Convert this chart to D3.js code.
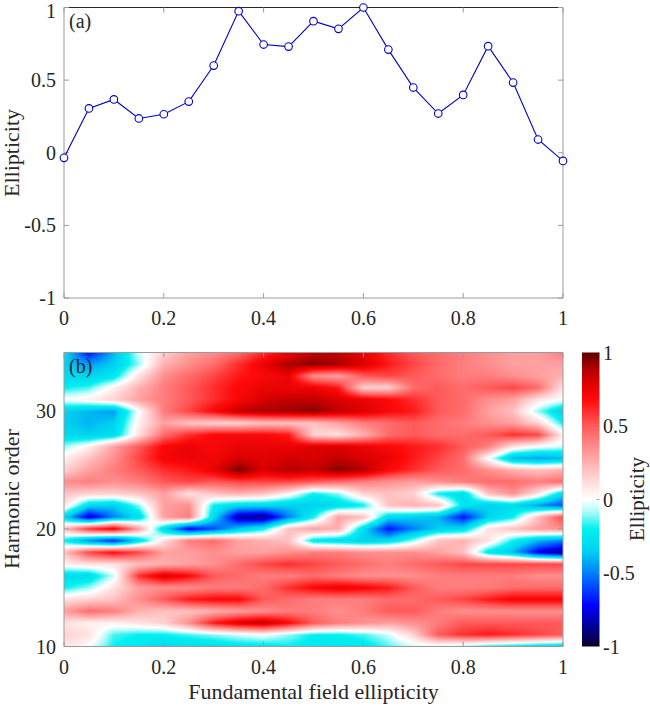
<!DOCTYPE html>
<html>
<head>
<meta charset="utf-8">
<script src="https://cdn.jsdelivr.net/npm/d3@7"></script>
<style>
  body { margin: 0; background: #fff; }
  svg text { font-family: "Liberation Serif", "Times New Roman", Times, serif; fill: #262626; }
</style>
</head>
<body>
<svg id="chart" width="650" height="707"></svg>
<script>
// panel (a): ellipticity of the harmonic vs fundamental ellipticity
const fundamentalEllipticity = [0, 0.05, 0.1, 0.15, 0.2, 0.25, 0.3, 0.35, 0.4, 0.45, 0.5,
  0.55, 0.6, 0.65, 0.7, 0.75, 0.8, 0.85, 0.9, 0.95, 1];
const harmonicEllipticity = [-0.035, 0.305, 0.367, 0.236, 0.265, 0.352, 0.60, 0.975, 0.745, 0.731, 0.906,
  0.853, 1.0, 0.71, 0.449, 0.27, 0.398, 0.734, 0.483, 0.091, -0.056];

// panel (b): rows are harmonic orders (top to bottom), columns follow fundamentalEllipticity
const harmonicOrders = [35, 34, 33, 32, 31, 30, 29, 28, 27, 26, 25, 24, 23,
  22, 21, 20, 19, 18, 17, 16, 15, 14, 13, 12, 11, 10];
const ellipticityMap = [
  [-0.3, -0.7, -0.4, -0.05, 0.15, 0.3, 0.35, 0.45, 0.6, 0.75, 0.85, 0.85, 0.75, 0.6, 0.5, 0.45, 0.4, 0.35, 0.3, 0.3, 0.4],
  [-0.35, -0.45, -0.35, -0.1, 0.25, 0.35, 0.45, 0.6, 0.75, 0.9, 0.95, 0.9, 0.8, 0.65, 0.55, 0.45, 0.4, 0.35, 0.3, 0.3, 0.3],
  [-0.3, -0.35, -0.25, 0.1, 0.35, 0.45, 0.55, 0.65, 0.7, 0.75, 0.35, 0.3, 0.5, 0.55, 0.5, 0.45, 0.4, 0.4, 0.35, 0.3, 0.25],
  [-0.2, -0.15, 0.05, 0.25, 0.4, 0.5, 0.6, 0.7, 0.75, 0.75, 0.75, 0.65, 0.15, 0.15, 0.45, 0.5, 0.45, 0.5, 0.55, 0.45, 0.1],
  [0.0, 0.05, 0.15, 0.3, 0.4, 0.5, 0.6, 0.7, 0.8, 0.85, 0.85, 0.8, 0.75, 0.7, 0.6, 0.5, 0.45, 0.35, 0.3, 0.1, 0.0],
  [-0.35, -0.4, -0.45, 0.0, 0.4, 0.55, 0.7, 0.85, 0.9, 0.92, 0.95, 0.85, 0.8, 0.7, 0.65, 0.5, 0.45, 0.3, 0.2, -0.1, -0.35],
  [-0.35, -0.4, -0.35, 0.05, 0.3, 0.2, 0.15, 0.15, 0.2, 0.2, 0.2, 0.3, 0.4, 0.45, 0.5, 0.45, 0.4, 0.35, 0.3, 0.15, -0.2],
  [-0.3, -0.35, -0.3, 0.1, 0.45, 0.6, 0.7, 0.7, 0.7, 0.65, 0.15, 0.1, 0.25, 0.45, 0.5, 0.45, 0.45, 0.5, 0.6, 0.55, 0.05],
  [-0.1, 0.05, 0.3, 0.5, 0.7, 0.75, 0.7, 0.75, 0.75, 0.75, 0.8, 0.8, 0.75, 0.7, 0.65, 0.6, 0.5, 0.4, 0.1, 0.0, -0.05],
  [0.05, 0.2, 0.35, 0.55, 0.72, 0.75, 0.72, 0.8, 0.78, 0.82, 0.8, 0.85, 0.8, 0.75, 0.65, 0.55, 0.45, 0.0, -0.4, -0.45, -0.4],
  [0.15, 0.3, 0.4, 0.5, 0.6, 0.65, 0.75, 0.97, 0.8, 0.88, 0.85, 0.95, 0.88, 0.7, 0.6, 0.5, 0.45, 0.35, 0.25, 0.2, 0.25],
  [0.35, 0.4, 0.35, 0.4, 0.5, 0.55, 0.5, 0.55, 0.55, 0.55, 0.5, 0.45, 0.4, 0.35, 0.3, 0.35, 0.4, 0.45, 0.45, 0.4, 0.45],
  [0.2, 0.15, 0.15, 0.2, 0.3, 0.1, 0.2, 0.25, 0.2, 0.05, -0.2, -0.1, 0.15, 0.2, 0.15, -0.2, -0.3, 0.2, 0.35, 0.1, -0.3],
  [0.1, -0.3, -0.35, -0.1, 0.3, 0.35, -0.2, -0.3, -0.3, -0.35, -0.35, -0.3, -0.2, 0.2, 0.25, 0.2, -0.25, -0.35, -0.3, -0.45, -0.6],
  [-0.3, -0.8, -0.5, -0.3, 0.3, 0.4, -0.3, -0.85, -0.9, -0.5, -0.2, 0.3, 0.2, -0.3, -0.35, -0.4, -0.7, -0.35, -0.2, 0.2, 0.55],
  [0.2, 0.6, 0.75, 0.3, -0.3, -0.75, -0.6, -0.35, -0.2, 0.2, 0.3, 0.25, -0.3, -0.7, -0.5, -0.35, -0.3, 0.1, 0.2, 0.3, 0.35],
  [-0.2, -0.5, -0.7, -0.3, 0.1, 0.4, 0.45, 0.3, 0.25, 0.2, -0.25, -0.3, -0.35, -0.3, -0.1, 0.2, 0.25, 0.1, -0.2, -0.4, -0.5],
  [0.2, 0.55, 0.7, 0.55, 0.3, 0.3, 0.35, 0.3, 0.3, 0.35, 0.4, 0.4, 0.35, 0.35, 0.35, 0.3, 0.2, -0.25, -0.4, -0.75, -0.9],
  [0.05, 0.1, 0.1, 0.2, 0.25, 0.3, 0.35, 0.45, 0.55, 0.6, 0.55, 0.5, 0.45, 0.4, 0.45, 0.5, 0.55, 0.55, 0.55, 0.55, 0.55],
  [-0.3, -0.3, -0.05, 0.6, 0.8, 0.7, 0.5, 0.45, 0.4, 0.4, 0.45, 0.4, 0.35, 0.35, 0.35, 0.4, 0.4, 0.4, 0.4, 0.35, 0.35],
  [-0.2, -0.1, 0.1, 0.3, 0.35, 0.35, 0.4, 0.4, 0.45, 0.6, 0.7, 0.75, 0.72, 0.65, 0.5, 0.4, 0.4, 0.4, 0.45, 0.45, 0.45],
  [0.1, 0.15, 0.2, 0.35, 0.5, 0.65, 0.7, 0.7, 0.5, 0.45, 0.4, 0.4, 0.4, 0.45, 0.45, 0.5, 0.55, 0.65, 0.72, 0.72, 0.72],
  [0.3, 0.45, 0.4, 0.25, 0.2, 0.2, 0.25, 0.3, 0.35, 0.4, 0.4, 0.35, 0.4, 0.5, 0.5, 0.4, 0.35, 0.35, 0.35, 0.35, 0.35],
  [0.1, 0.05, 0.05, 0.1, 0.15, 0.35, 0.65, 0.8, 0.85, 0.7, 0.5, 0.4, 0.35, 0.3, 0.35, 0.4, 0.5, 0.5, 0.5, 0.5, 0.5],
  [0.15, 0.1, -0.15, -0.2, -0.2, -0.15, -0.1, -0.05, 0.0, -0.1, -0.2, -0.2, -0.15, -0.05, 0.15, 0.5, 0.6, 0.65, 0.6, 0.55, 0.5],
  [0.1, 0.0, -0.2, -0.25, -0.3, -0.3, -0.3, -0.25, -0.25, -0.2, -0.25, -0.25, -0.25, -0.15, -0.05, -0.05, -0.1, -0.2, -0.25, -0.3, -0.35]
];

// tick labels
const xTicks = [0, 0.2, 0.4, 0.6, 0.8, 1];
const topYTicks = [-1, -0.5, 0, 0.5, 1];
const bottomYTicks = [10, 20, 30];
const colorbarTicks = [-1, -0.5, 0, 0.5, 1];

// colour map stops (value -> colour)
const cmapStops = [-1, -0.85, -0.72, -0.55, -0.35, -0.2, -0.08, 0, 0.12, 0.3, 0.5, 0.68, 0.8, 0.9, 1];
const cmapColors = ['#0a0028', '#0000a0', '#0000ff', '#0064ff', '#00d2f0', '#00f0f0', '#b4fafa', '#ffffff',
  '#ffdcdc', '#ffa0a0', '#ff5a5a', '#ff0a0a', '#dc0000', '#aa0000', '#5a0000'];

const svg = d3.select('#chart');
const fmt = d => String(d);

const color = d3.scaleLinear().domain(cmapStops).range(cmapColors).clamp(true);

const plotL = 64, plotR = 563;
const tickFont = 20, labelFont = 22;

/*
 * panel (a)
 */
const xA = d3.scaleLinear().domain([0, 1]).range([plotL, plotR]);
const yA = d3.scaleLinear().domain([-1, 1]).range([298, 7.5]);

drawFrame(xA, yA, xTicks, topYTicks, true);

svg.append('path')
  .datum(fundamentalEllipticity.map((d, i) => [d, harmonicEllipticity[i]]))
  .attr('fill', 'none')
  .attr('stroke', '#0000c8')
  .attr('stroke-width', 1.1)
  .attr('d', d3.line().x(d => xA(d[0])).y(d => yA(d[1])));

svg.selectAll('circle.pt')
  .data(fundamentalEllipticity)
  .enter()
  .append('circle')
  .attr('class', 'pt')
  .attr('cx', d => xA(d))
  .attr('cy', (d, i) => yA(harmonicEllipticity[i]))
  .attr('r', 3.8)
  .attr('fill', '#fff')
  .attr('stroke', '#0000c8')
  .attr('stroke-width', 1.1);

svg.append('text').attr('x', 69).attr('y', 28).attr('font-size', tickFont).text('(a)');
svg.append('text')
  .attr('transform', 'translate(19,153) rotate(-90)')
  .attr('text-anchor', 'middle')
  .attr('font-size', labelFont)
  .text('Ellipticity');

/*
 * panel (b)
 */
const xB = d3.scaleLinear().domain([0, 1]).range([plotL, plotR]);
const yB = d3.scaleLinear().domain([10, 35]).range([646.5, 352.5]);
const colIndex = d3.scaleLinear().domain([0, 1]).range([0, fundamentalEllipticity.length - 1]);
const rowIndex = d3.scaleLinear().domain([35, 10]).range([0, harmonicOrders.length - 1]);

const W = Math.round(plotR - plotL), H = Math.round(yB(10) - yB(35));
const canvas = document.createElement('canvas');
canvas.width = W; canvas.height = H;
const ctx = canvas.getContext('2d');
const img = ctx.createImageData(W, H);
const nc = fundamentalEllipticity.length, nr = harmonicOrders.length;
for (let py = 0; py < H; py++) {
  const r = Math.max(0, Math.min(nr - 1, rowIndex(yB.invert(yB(35) + py + 0.5))));
  const r0 = Math.min(nr - 2, Math.floor(r)), fr = r - r0;
  for (let px = 0; px < W; px++) {
    const c = Math.max(0, Math.min(nc - 1, colIndex(xB.invert(plotL + px + 0.5))));
    const c0 = Math.min(nc - 2, Math.floor(c)), fc = c - c0;
    const v = (1 - fr) * ((1 - fc) * ellipticityMap[r0][c0] + fc * ellipticityMap[r0][c0 + 1]) +
      fr * ((1 - fc) * ellipticityMap[r0 + 1][c0] + fc * ellipticityMap[r0 + 1][c0 + 1]);
    const rgb = d3.rgb(color(v));
    const k = (py * W + px) * 4;
    img.data[k] = rgb.r; img.data[k + 1] = rgb.g; img.data[k + 2] = rgb.b; img.data[k + 3] = 255;
  }
}
ctx.putImageData(img, 0, 0);
svg.append('image')
  .attr('x', plotL).attr('y', yB(35))
  .attr('width', W).attr('height', H)
  .attr('preserveAspectRatio', 'none')
  .attr('href', canvas.toDataURL());

drawFrame(xB, yB, xTicks, bottomYTicks, false);

svg.append('text').attr('x', 69).attr('y', 373).attr('font-size', tickFont).text('(b)');
svg.append('text')
  .attr('transform', 'translate(19,499) rotate(-90)')
  .attr('text-anchor', 'middle')
  .attr('font-size', labelFont)
  .text('Harmonic order');
svg.append('text')
  .attr('x', xB(0.5)).attr('y', 699)
  .attr('text-anchor', 'middle')
  .attr('font-size', labelFont)
  .text('Fundamental field ellipticity');

/*
 * colorbar
 */
const cbX = 582, cbW = 17.5;
const yC = d3.scaleLinear().domain([-1, 1]).range([646.5, 352.5]);
const grad = svg.append('defs').append('linearGradient')
  .attr('id', 'cbgrad').attr('x1', 0).attr('y1', 1).attr('x2', 0).attr('y2', 0);
grad.selectAll('stop')
  .data(cmapStops)
  .enter()
  .append('stop')
  .attr('offset', d => (d + 1) / 2)
  .attr('stop-color', (d, i) => cmapColors[i]);
svg.append('rect')
  .attr('x', cbX).attr('y', yC(1))
  .attr('width', cbW).attr('height', yC(-1) - yC(1))
  .attr('fill', 'url(#cbgrad)');
svg.selectAll('line.cbt')
  .data(colorbarTicks)
  .enter()
  .append('line')
  .attr('class', 'cbt')
  .attr('x1', cbX + cbW - 3).attr('x2', cbX + cbW)
  .attr('y1', d => yC(d)).attr('y2', d => yC(d))
  .attr('stroke', '#888').attr('stroke-width', 0.8);
svg.selectAll('text.cbl')
  .data(colorbarTicks)
  .enter()
  .append('text')
  .attr('class', 'cbl')
  .attr('x', 603)
  .attr('y', d => yC(d) + 7)
  .attr('font-size', tickFont)
  .text(d => fmt(d));
svg.append('text')
  .attr('transform', 'translate(644,499) rotate(-90)')
  .attr('text-anchor', 'middle')
  .attr('font-size', 21)
  .text('Ellipticity');

function drawFrame(x, y, xt, yt, darkTop) {
  const [x0, x1] = x.range();
  const [yb, yt0] = y.range();
  const g = svg.append('g');
  // box
  g.append('line').attr('x1', x0).attr('x2', x1).attr('y1', yb).attr('y2', yb)
    .attr('stroke', '#9a9a9a').attr('stroke-width', 1);
  g.append('line').attr('x1', x0).attr('x2', x0).attr('y1', yb).attr('y2', yt0)
    .attr('stroke', '#9a9a9a').attr('stroke-width', 1);
  g.append('line').attr('x1', x1).attr('x2', x1).attr('y1', yb).attr('y2', yt0)
    .attr('stroke', '#9a9a9a').attr('stroke-width', 1);
  g.append('line').attr('x1', x0).attr('x2', x1).attr('y1', yt0).attr('y2', yt0)
    .attr('stroke', darkTop ? '#262626' : '#9a9a9a').attr('stroke-width', 1);
  // inward ticks on all four sides
  g.selectAll('line.xt').data(xt).enter().append('line')
    .attr('x1', d => x(d)).attr('x2', d => x(d)).attr('y1', yb).attr('y2', yb - 5)
    .attr('stroke', '#9a9a9a');
  g.selectAll('line.xtt').data(xt).enter().append('line')
    .attr('x1', d => x(d)).attr('x2', d => x(d)).attr('y1', yt0).attr('y2', yt0 + 5)
    .attr('stroke', '#9a9a9a');
  g.selectAll('line.yt').data(yt).enter().append('line')
    .attr('x1', x0).attr('x2', x0 + 5).attr('y1', d => y(d)).attr('y2', d => y(d))
    .attr('stroke', '#9a9a9a');
  g.selectAll('line.ytr').data(yt).enter().append('line')
    .attr('x1', x1).attr('x2', x1 - 5).attr('y1', d => y(d)).attr('y2', d => y(d))
    .attr('stroke', '#9a9a9a');
  // labels (keep the topmost label fully inside the page)
  g.selectAll('text.xl').data(xt).enter().append('text')
    .attr('x', d => x(d)).attr('y', yb + 27)
    .attr('text-anchor', 'middle').attr('font-size', tickFont)
    .text(d => fmt(d));
  g.selectAll('text.yl').data(yt).enter().append('text')
    .attr('x', x0 - 8).attr('y', d => Math.max(y(d) + 7, 18))
    .attr('text-anchor', 'end').attr('font-size', tickFont)
    .text(d => fmt(d));
}
</script>
</body>
</html>
